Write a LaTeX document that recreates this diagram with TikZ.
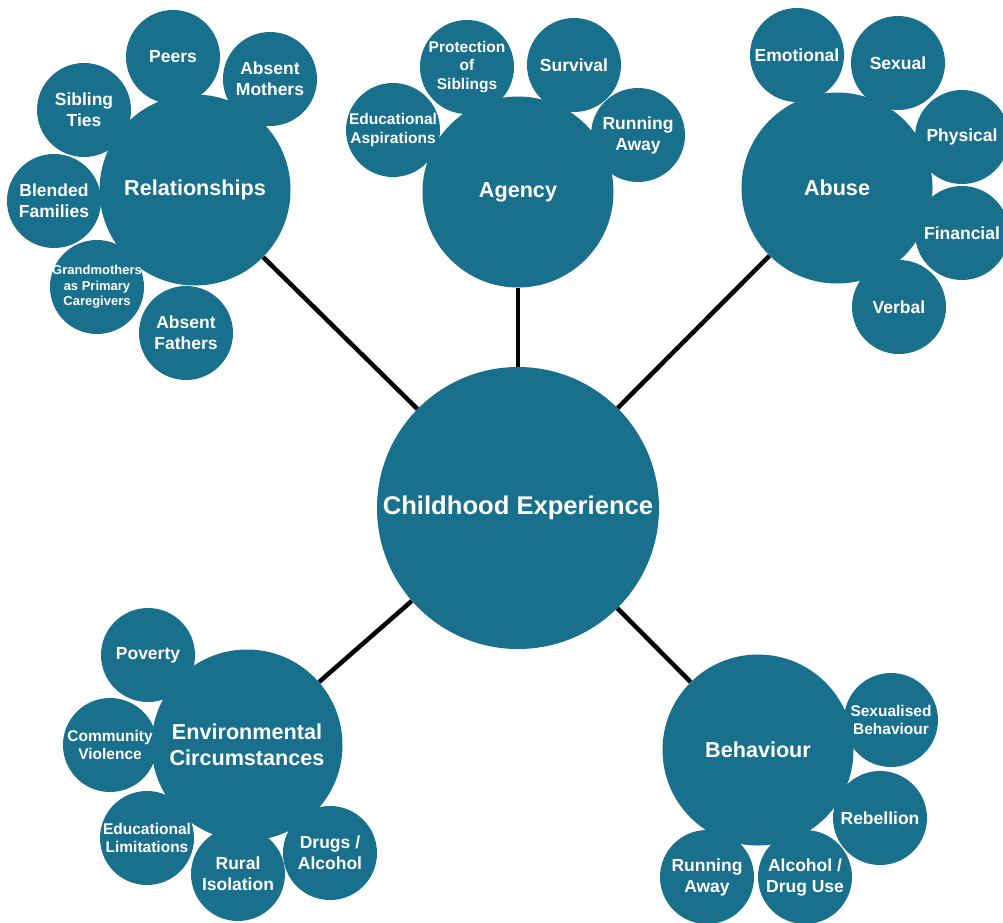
\documentclass[tikz,border=0pt]{standalone}
\usepackage{fontspec}
\setmainfont{Liberation Sans}
\usetikzlibrary{backgrounds}
\definecolor{bubblue}{RGB}{25,112,140}
\tikzset{
  bub/.style={circle, fill=bubblue, draw=none, text=white, align=center},
  core/.style={bub, minimum size=282pt, inner sep=0pt, font=\fontsize{25.6pt}{30pt}\selectfont\bfseries},
  big/.style={bub, minimum size=191pt, inner sep=0pt, font=\fontsize{21.6pt}{26pt}\selectfont\bfseries},
  sat/.style={bub, minimum size=94pt, inner sep=-8pt, font=\fontsize{17.5pt}{21pt}\selectfont\bfseries},
  satm/.style={sat, font=\fontsize{15.5pt}{18.5pt}\selectfont\bfseries},
  satt/.style={sat, font=\fontsize{13pt}{15.5pt}\selectfont\bfseries},
  link/.style={line width=4.5pt, black}
}
\begin{document}
\begin{tikzpicture}[x=1pt,y=-1pt]
\useasboundingbox (0,0) rectangle (1003,922);
% big circles
\node[big] (rel) at (195,190) {Relationships};
\node[big] (agy) at (518,192) {Agency};
\node[big] (abu) at (837,188) {Abuse};
\node[big] (env) at (247,745) {Environmental\\Circumstances};
\node[big] (beh) at (758,750) {Behaviour};
% relationships satellites
\node[sat] (peers) at (173,57) {Peers};
\node[sat] (amot) at (270,79) {Absent\\Mothers};
\node[sat] (sib) at (84,110) {Sibling\\Ties};
\node[sat] (blend) at (54,201) {Blended\\Families};
\node[satt] (gran) at (97,287) {Grandmothers\\as Primary\\Caregivers};
\node[sat] (afath) at (186,333) {Absent\\Fathers};
% agency satellites
\node[satm] (prot) at (467,67) {Protection\\of\\Siblings};
\node[sat] (surv) at (574,65) {Survival};
\node[sat] (runa) at (638,135) {Running\\Away};
\node[satm] (edasp) at (393,130) {Educational\\Aspirations};
% abuse satellites
\node[sat] (emo) at (797,55) {Emotional};
\node[sat] (sexl) at (898,63) {Sexual};
\node[sat] (phys) at (962,137) {Physical};
\node[sat] (fin) at (962,233) {Financial};
\node[sat] (verb) at (899,307) {Verbal};
% environmental satellites
\node[sat] (pov) at (148,655) {Poverty};
\node[satm] (comm) at (110,745) {Community\\Violence};
\node[satm] (edlim) at (147,838) {Educational\\Limitations};
\node[sat] (rural) at (238,874) {Rural\\Isolation};
\node[sat] (drugs) at (330,853) {Drugs /\\Alcohol};
% behaviour satellites
\node[satm] (sexb) at (891,720) {Sexualised\\Behaviour};
\node[sat] (reb) at (880,818) {Rebellion};
\node[sat] (runb) at (707,877) {Running\\Away};
\node[sat] (alc) at (805,877) {Alcohol /\\Drug Use};
% centre
\node[core] (ce) at (518,508) {Childhood Experience};
\begin{scope}[on background layer]
  \fill[white] (0,0) rectangle (1003,922);
  \draw[link] (ce) -- (rel);
  \draw[link] (ce) -- (agy);
  \draw[link] (ce) -- (abu);
  \draw[link] (ce) -- (env);
  \draw[link] (ce) -- (beh);
\end{scope}
\end{tikzpicture}
\end{document}
